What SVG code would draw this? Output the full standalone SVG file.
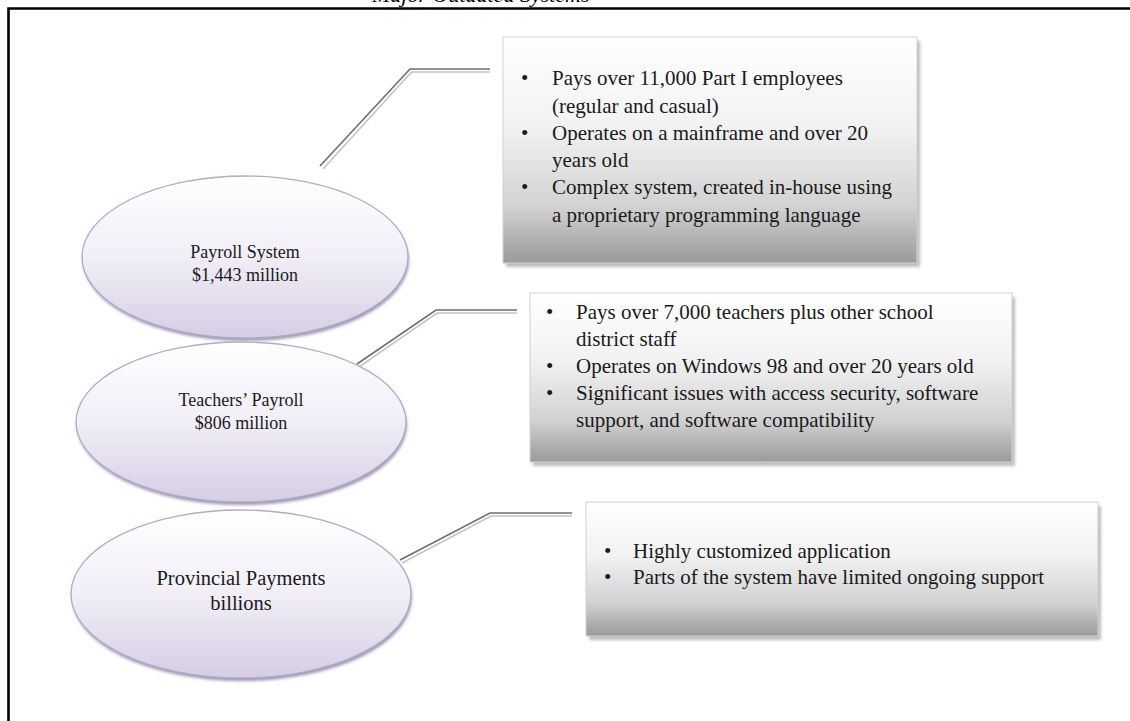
<svg xmlns="http://www.w3.org/2000/svg" width="1130" height="721" viewBox="0 0 1130 721">
<style>
  .box-text { font-family: "Liberation Serif", "Times New Roman", serif; font-size: 21px; fill: #1a1a1a; }
  .node-text { font-family: "Liberation Serif", "Times New Roman", serif; font-size: 18px; fill: #1a1a1a; text-anchor: middle; }
  .node-text-lg { font-family: "Liberation Serif", "Times New Roman", serif; font-size: 20.5px; fill: #1a1a1a; text-anchor: middle; }
  .title { font-family: "Liberation Serif", "Times New Roman", serif; font-size: 22px; font-style: italic; fill: #000; }
  .ell { fill: url(#ellGrad); stroke: #b3a9c9; stroke-width: 1.3; }
  .ell-shadow { fill: #9f97b2; filter: url(#blur2); }
  .box { fill: url(#boxGrad); stroke: #d2d2d2; stroke-width: 1; }
  .box-shadow { fill: #bdbdbd; filter: url(#blur2); }
  .conn-dark { fill: none; stroke: #6e6e6e; stroke-width: 1.6; }
  .conn-light { fill: none; stroke: #c4c4c4; stroke-width: 1.6; }
</style>
<defs>
  <linearGradient id="ellGrad" x1="0" y1="0" x2="0" y2="1">
    <stop offset="0" stop-color="#ffffff"/>
    <stop offset="0.5" stop-color="#f1eef7"/>
    <stop offset="1" stop-color="#d6cde4"/>
  </linearGradient>
  <linearGradient id="boxGrad" x1="0" y1="0" x2="0" y2="1">
    <stop offset="0" stop-color="#ffffff"/>
    <stop offset="0.4" stop-color="#f2f2f2"/>
    <stop offset="0.75" stop-color="#d2d2d2"/>
    <stop offset="1" stop-color="#9a9a9a"/>
  </linearGradient>
  <filter id="blur2" x="-10%" y="-10%" width="120%" height="130%">
    <feGaussianBlur stdDeviation="1.8"/>
  </filter>
</defs>
<rect x="0" y="0" width="1130" height="721" fill="#ffffff"/>
<text class="title" x="372" y="1.5">Major Outdated Systems</text>
<path d="M8.5,721 V8.5 H1130" fill="none" stroke="#000" stroke-width="2.6"/>

<g id="connectors">
  <path class="conn-light" d="M323,169 L411.5,72 L490,72"/>
  <path class="conn-dark" d="M320,166 L410,69 L490,69"/>
  <path class="conn-light" d="M359,367 L437,313 L517,313"/>
  <path class="conn-dark" d="M357,364 L436,310 L517,310"/>
  <path class="conn-light" d="M402,563 L491,516 L572,516"/>
  <path class="conn-dark" d="M400,560 L490,513 L572,513"/>
</g>

<g id="node-payroll">
  <ellipse class="ell-shadow" cx="246" cy="260" rx="163" ry="81"/>
  <ellipse class="ell" cx="245" cy="257" rx="163" ry="81"/>
  <text class="node-text" x="245" y="258">Payroll System</text>
  <text class="node-text" x="245" y="281">$1,443 million</text>
</g>

<g id="node-teachers">
  <ellipse class="ell-shadow" cx="242" cy="425" rx="165" ry="80"/>
  <ellipse class="ell" cx="241" cy="422" rx="165" ry="80"/>
  <text class="node-text" x="241" y="406">Teachers’ Payroll</text>
  <text class="node-text" x="241" y="429">$806 million</text>
</g>

<g id="node-provincial">
  <ellipse class="ell-shadow" cx="242" cy="597" rx="170" ry="84"/>
  <ellipse class="ell" cx="241" cy="594" rx="170" ry="84"/>
  <text class="node-text-lg" x="241" y="585">Provincial Payments</text>
  <text class="node-text-lg" x="241" y="610">billions</text>
</g>

<g id="box-payroll">
  <rect class="box-shadow" x="506" y="41" width="414" height="226"/>
  <rect class="box" x="503" y="37" width="414" height="226"/>
  <g class="box-text">
    <text x="521" y="85">•</text><text x="552" y="85">Pays over 11,000 Part I employees</text>
    <text x="552" y="112.5">(regular and casual)</text>
    <text x="521" y="140">•</text><text x="552" y="140">Operates on a mainframe and over 20</text>
    <text x="552" y="167">years old</text>
    <text x="521" y="194">•</text><text x="552" y="194">Complex system, created in-house using</text>
    <text x="552" y="221.5">a proprietary programming language</text>
  </g>
</g>

<g id="box-teachers">
  <rect class="box-shadow" x="533" y="297" width="482" height="169"/>
  <rect class="box" x="530" y="293" width="482" height="169"/>
  <g class="box-text">
    <text x="546" y="319">•</text><text x="576" y="319">Pays over 7,000 teachers plus other school</text>
    <text x="576" y="346">district staff</text>
    <text x="546" y="373">•</text><text x="576" y="373">Operates on Windows 98 and over 20 years old</text>
    <text x="546" y="400">•</text><text x="576" y="400">Significant issues with access security, software</text>
    <text x="576" y="427">support, and software compatibility</text>
  </g>
</g>

<g id="box-provincial">
  <rect class="box-shadow" x="589" y="506" width="512" height="134"/>
  <rect class="box" x="586" y="502" width="512" height="134"/>
  <g class="box-text">
    <text x="604" y="558">•</text><text x="633" y="558">Highly customized application</text>
    <text x="604" y="584">•</text><text x="633" y="584">Parts of the system have limited ongoing support</text>
  </g>
</g>
</svg>
